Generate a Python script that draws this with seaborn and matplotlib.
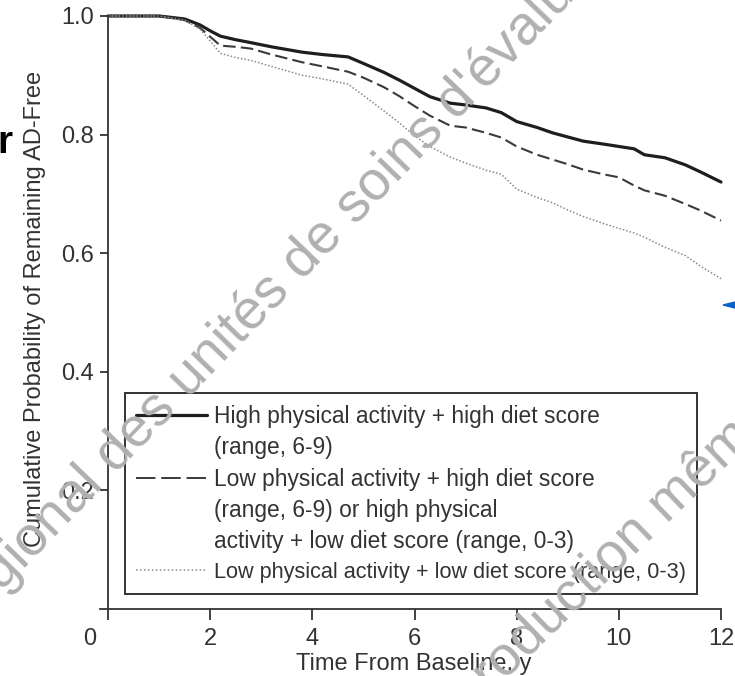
import matplotlib
matplotlib.use('Agg')
import pandas as pd
import seaborn as sns
import matplotlib.pyplot as plt
import matplotlib.lines as mlines
import matplotlib.patches as mpatches
from matplotlib.transforms import ScaledTranslation

# Follow-up time (years) and cumulative AD-free probability.
years = [0.0, 1.0, 1.5, 1.8, 2.0, 2.2, 2.5, 2.8, 3.2, 3.8, 4.2, 4.7, 5.0, 5.4,
         5.7, 6.0, 6.3, 6.7, 7.0, 7.4, 7.7, 8.0, 8.4, 8.7, 9.0, 9.3, 9.7,
         10.0, 10.3, 10.5, 10.9, 11.3, 11.6, 12.0]
high_high = [1.000, 1.000, 0.995, 0.985, 0.975, 0.966, 0.960, 0.955, 0.948,
             0.939, 0.935, 0.931, 0.920, 0.905, 0.892, 0.878, 0.864, 0.853,
             0.850, 0.845, 0.837, 0.822, 0.812, 0.803, 0.796, 0.789, 0.784,
             0.780, 0.776, 0.766, 0.761, 0.749, 0.737, 0.720]
mixed = [1.000, 1.000, 0.993, 0.980, 0.965, 0.950, 0.948, 0.945, 0.935,
         0.922, 0.915, 0.906, 0.896, 0.880, 0.865, 0.848, 0.832, 0.815,
         0.812, 0.803, 0.795, 0.780, 0.766, 0.758, 0.750, 0.741, 0.733,
         0.728, 0.714, 0.706, 0.697, 0.683, 0.672, 0.655]
low_low = [1.000, 1.000, 0.993, 0.978, 0.958, 0.937, 0.930, 0.925, 0.915,
           0.900, 0.894, 0.885, 0.866, 0.840, 0.820, 0.798, 0.780, 0.762,
           0.752, 0.740, 0.733, 0.708, 0.694, 0.685, 0.673, 0.662, 0.650,
           0.642, 0.634, 0.627, 0.610, 0.596, 0.578, 0.557]

groups = ['high_high', 'mixed', 'low_low']
x_ticks = [0, 2, 4, 6, 8, 10, 12]
y_ticks = [0.2, 0.4, 0.6, 0.8, 1.0]
legend_lines = ['High physical activity + high diet score',
                '(range, 6-9)',
                'Low physical activity + high diet score',
                '(range, 6-9) or high physical',
                'activity + low diet score (range, 0-3)',
                'Low physical activity + low diet score (range, 0-3)']

sns.set_style('ticks')
plt.rcParams['font.family'] = ['Liberation Sans', 'DejaVu Sans']

df = pd.DataFrame({
    'years': years * 3,
    'prob': high_high + mixed + low_low,
    'group': [g for g in groups for _ in years],
})

palette = {'high_high': '#1e1e1e', 'mixed': '#3a3a3a', 'low_low': '#8a8a8a'}
dashes = {'high_high': '', 'mixed': (6, 2.5), 'low_low': (1, 1.3)}
sizes = {'high_high': 2.3, 'mixed': 1.5, 'low_low': 1.1}

fig = plt.figure(figsize=(7.35, 6.76), dpi=100)
ax = fig.add_axes([100 / 735, 67 / 676, 621 / 735, 593 / 676])

sns.lineplot(data=df, x='years', y='prob', hue='group', style='group',
             size='group', palette=palette, dashes=dashes, sizes=sizes,
             estimator=None, legend=False, ax=ax, clip_on=False)

ax.set_xlim(-0.157, 12)
ax.set_ylim(0, 1.0)
ax.spines['left'].set_position(('data', 0))
sns.despine(ax=ax)
for side in ('left', 'bottom'):
    ax.spines[side].set_color('#333333')
    ax.spines[side].set_linewidth(1.3)

ax.set_xticks(x_ticks)
ax.set_xticklabels([str(v) for v in x_ticks])
ax.set_yticks(y_ticks)
ax.set_yticklabels([f'{v:.1f}' for v in y_ticks])
ax.tick_params(axis='both', direction='out', width=1.3, colors='#333333',
               labelsize=17)
ax.tick_params(axis='y', length=6, pad=4)
ax.tick_params(axis='x', length=8, pad=6)

# the "0" label sits left of its tick in the original
zero_lab = ax.xaxis.get_major_ticks()[0].label1
zero_lab.set_transform(zero_lab.get_transform()
                       + ScaledTranslation(-18 / 100, 0, fig.dpi_scale_trans))

ax.set_xlabel('Time From Baseline, y', fontsize=17, color='#333333')
ax.set_ylabel('Cumulative Probability of Remaining AD-Free', fontsize=17,
              color='#333333')
ax.xaxis.set_label_coords(0.5056, -0.074)
ax.yaxis.set_label_coords(-0.087, 0.506)

# legend: continuation lines get blank handles so the keys sit on first lines
h_solid = mlines.Line2D([], [], color=palette['high_high'], lw=2.3)
h_dash = mlines.Line2D([], [], color=palette['mixed'], lw=1.4, dashes=(10, 3))
h_dot = mlines.Line2D([], [], color=palette['low_low'], lw=1.1, dashes=(1, 1.6))
blank = mlines.Line2D([], [], color='none')
leg = ax.legend(handles=[h_solid, blank, h_dash, blank, blank, h_dot],
                labels=legend_lines, loc='lower left',
                bbox_to_anchor=(0.040, 0.025), fontsize=16.4, frameon=True,
                fancybox=False, edgecolor='#333333', framealpha=1,
                handlelength=3.1, handletextpad=0.3, labelspacing=0.37,
                borderpad=0.5, borderaxespad=0)
leg.get_frame().set_linewidth(1.4)
for t in leg.get_texts():
    t.set_color('#333333')
leg.get_texts()[-1].set_fontsize(15.6)

# watermark and cropped fragments of the source slide
fig.text(-0.045, 0.072, "régional des unités de soins d'évaluation",
         rotation=46, rotation_mode='anchor', ha='left', va='baseline',
         fontsize=40, color='#b0b0b0', zorder=10)
fig.text(0.590, -0.108, 'reproduction même partielle',
         rotation=44, rotation_mode='anchor', ha='left', va='baseline',
         fontsize=40, color='#b0b0b0', zorder=10)
fig.text(12.5 / 735, 1 - 153 / 676, 'r', ha='right', va='baseline',
         fontsize=28, fontweight='bold', color='black')
fig.patches.append(mpatches.Polygon(
    [[723 / 735, 1 - 305 / 676], [1.0, 1 - 302 / 676], [1.0, 1 - 308 / 676]],
    closed=True, transform=fig.transFigure, color='#0a64c8'))

fig.savefig('out.png', dpi=100)
